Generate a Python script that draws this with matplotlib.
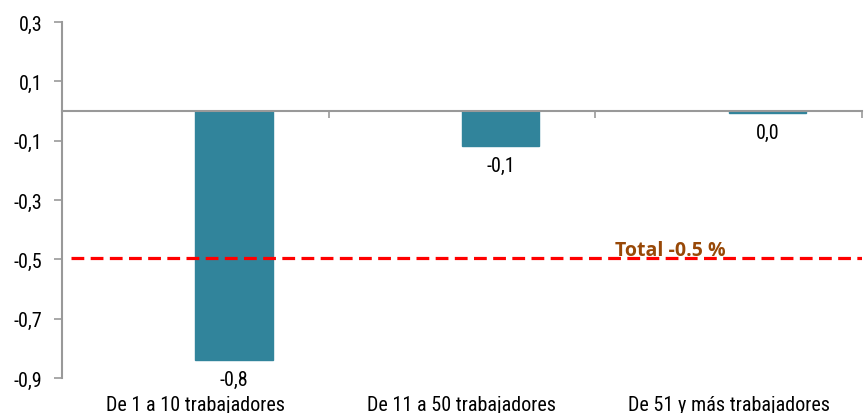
import matplotlib
matplotlib.use("Agg")
import matplotlib.pyplot as plt
from matplotlib import font_manager
import matplotlib.transforms as mtransforms

categories = ["De 1 a 10 trabajadores", "De 11 a 50 trabajadores", "De 51 y más trabajadores"]
values = [-0.84, -0.118, -0.008]
value_labels = ["-0,8", "-0,1", "0,0"]
total_value = -0.495
total_label = "Total -0.5 %"
yticks = [0.3, 0.1, -0.1, -0.3, -0.5, -0.7, -0.9]
ytick_labels = ["0,3", "0,1", "-0,1", "-0,3", "-0,5", "-0,7", "-0,9"]

names = sorted({f.name for f in font_manager.fontManager.ttflist})
main_font = 'Liberation Sans'
for cand in ["Liberation Sans Narrow", "Roboto Condensed", "DejaVu Sans Condensed", "Open Sans Condensed"]:
    if cand in names:
        main_font = cand
        break
plt.rcParams['font.family'] = [main_font, 'DejaVu Sans']

W, H = 866, 414
fig = plt.figure(figsize=(W / 100, H / 100), dpi=100)
ax = fig.add_axes([62 / W, 1 - 379 / H, 800 / W, 356 / H])

bar_color = "#31849B"
axis_color = "#999999"
fs = 14.5

x = list(range(len(categories)))
ax.bar(x, values, width=0.29, align='edge', color=bar_color, edgecolor=bar_color, zorder=2)

ax.set_xlim(-0.5, 2.5)
ax.set_ylim(-0.9, 0.3)

for s in ['top', 'right']:
    ax.spines[s].set_visible(False)
ax.spines['left'].set_color(axis_color)
ax.spines['left'].set_linewidth(1.5)
ax.spines['bottom'].set_position(('data', 0))
ax.spines['bottom'].set_color(axis_color)
ax.spines['bottom'].set_linewidth(1.5)

ax.set_yticks(yticks)
ax.set_yticklabels(ytick_labels, fontsize=fs)
ax.tick_params(axis='y', length=6, width=1.2, color=axis_color, pad=8)
ax.set_xticks([0.5, 1.5, 2.5])
ax.set_xticklabels([])
ax.tick_params(axis='x', length=5, width=1.2, color=axis_color, direction='out')

trans = mtransforms.blended_transform_factory(ax.transData, ax.transAxes)
for i, c in enumerate(categories):
    ax.annotate(c, xy=(i, 0), xycoords=trans, xytext=(0, -19), textcoords='offset points',
                ha='center', va='center', fontsize=fs, annotation_clip=False)

for i, (v, lab) in enumerate(zip(values, value_labels)):
    ax.annotate(lab, xy=(i + 0.145, v), xytext=(0, -14), textcoords='offset points',
                ha='center', va='center', fontsize=fs, annotation_clip=False)

ax.axhline(total_value, xmin=9 / 800, xmax=1, color='red', linestyle=(0, (4, 2)), linewidth=2.3, zorder=3)
ax.text(1.78, total_value + 0.025, total_label, color='#984807', fontsize=14, fontweight='bold',
        family=['Open Sans', 'DejaVu Sans'], ha='center', va='center', zorder=2)

fig.savefig("out.png", dpi=100)
